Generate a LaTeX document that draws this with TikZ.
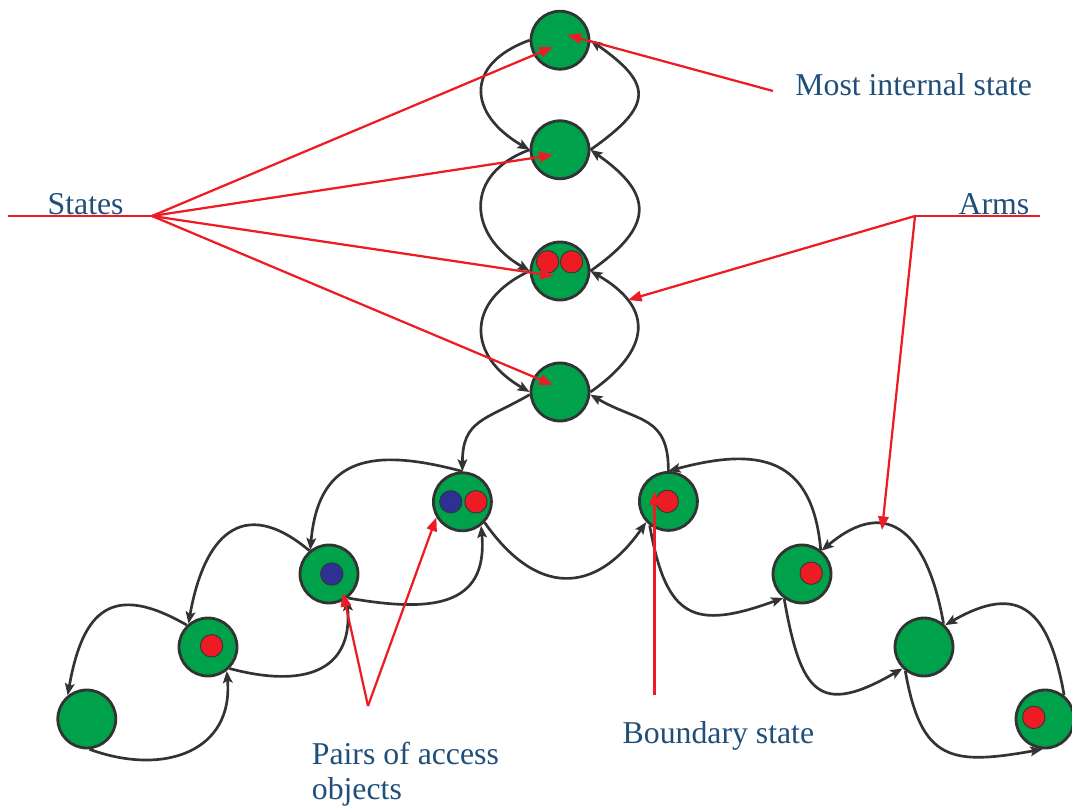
\documentclass[tikz,border=0pt]{standalone}
\usepackage{tikz}
\usetikzlibrary{positioning}
\usetikzlibrary{arrows.meta}
\usepackage{fontspec}
\setmainfont{Liberation Serif}
\usepackage{xcolor}

\definecolor{stategreen}{RGB}{0,161,75}
\definecolor{dotred}{RGB}{237,28,36}
\definecolor{dotblue}{RGB}{46,49,146}
\definecolor{edgegray}{RGB}{51,51,51}
\definecolor{labelblue}{RGB}{31,78,121}

\begin{document}
\begin{tikzpicture}[
state/.style={circle, draw=edgegray, fill=stategreen, line width=2pt, minimum size=1.45cm, inner sep=0pt},
reddot/.style={circle, draw=edgegray, fill=dotred, line width=0.6pt, minimum size=0.56cm, inner sep=0pt},
bluedot/.style={reddot, fill=dotblue},
trans/.style={edgegray, line width=1.9pt, -{Stealth[length=0.3cm,width=0.24cm,inset=0.06cm]}},
pointer/.style={dotred, line width=1.6pt, -{Triangle[length=0.34cm,width=0.26cm]}},
redline/.style={dotred, line width=1.6pt},
lbl/.style={text=labelblue, font=\fontsize{22.6}{25}\selectfont, inner sep=0pt}
]

\useasboundingbox (0,0) rectangle (26.8,20.175);

% states
{
\node[state] (S1) at (14,19.17) {};
\node[state] (S2) at (14,16.43) {};
\node[state] (S3) at (14,13.4) {};
\node[state] (S4) at (14,10.375) {};

\node[state] (L1) at (11.56,7.63) {};
\node[state] (L2) at (8.225,5.825) {};
\node[state] (L3) at (5.2,4.0) {};
\node[state] (L4) at (2.17,2.2) {};

\node[state] (R1) at (16.71,7.64) {};
\node[state] (R2) at (20.05,5.825) {};
\node[state] (R3) at (23.1,4.0) {};
\node[state] (R4) at (26.125,2.2) {};
}

% access objects
{
\node[reddot] (S3a) at ([shift={(-0.31,0.23)}]S3.center) {};
\node[reddot] (S3b) at ([shift={(0.29,0.23)}]S3.center) {};
\node[bluedot] (L1a) at ([shift={(-0.29,0)}]L1.center) {};
\node[reddot] (L1b) at ([shift={(0.34,0)}]L1.center) {};
\node[bluedot] (L2a) at ([shift={(0.07,0)}]L2.center) {};
\node[reddot] (L3a) at ([shift={(0.09,0.03)}]L3.center) {};
\node[reddot] (R1a) at ([shift={(-0.03,0)}]R1.center) {};
\node[reddot] (R2a) at ([shift={(0.23,0.02)}]R2.center) {};
\node[reddot] (R4a) at ([shift={(-0.28,0.04)}]R4.center) {};
}

% vertical arm
\draw[trans] (S1.180) to[out=200,in=150,looseness=1.65] (S2.180);
\draw[trans] (S2.0) to[out=35,in=-35,looseness=1.8] (S1.0);
\draw[trans] (S2.180) to[out=200,in=150,looseness=1.5] (S3.180);
\draw[trans] (S3.0) to[out=35,in=-35,looseness=1.65] (S2.0);
\draw[trans] (S3.180) to[out=205,in=150,looseness=1.52] (S4.180);
\draw[trans] (S4.0) to[out=35,in=-30,looseness=1.57] (S3.0);
\draw[trans] (S4.185) to[out=210,in=90,looseness=1.3] (L1.90);
\draw[trans] (R1.90) to[out=90,in=-30,looseness=1.3] (S4.-5);

% left arm
\draw[trans] (L1.90) to[out=165,in=85,looseness=1.4] (L2.128);
\draw[trans] (L2.130) to[out=140,in=80,looseness=1.6] (L3.130);
\draw[trans] (L3.134) to[out=150,in=80,looseness=1.6] (L4.129);
\draw[trans] (L4.-85) to[out=-20,in=-85,looseness=1.3] (L3.-52);
\draw[trans] (L3.-45) to[out=-15,in=-85,looseness=1.4] (L2.-54);
\draw[trans] (L2.-52) to[out=-10,in=-85,looseness=1.4] (L1.-52);
\draw[trans] (L1.-43) to[out=-55,in=-125,looseness=1.42] (R1.-137);

% right arm
\draw[trans] (R1.-128) to[out=-80,in=200,looseness=1.6] (R2.-128);
\draw[trans] (R2.-126) to[out=-80,in=210,looseness=1.8] (R3.-135);
\draw[trans] (R3.-128) to[out=-80,in=190,looseness=1.5] (R4.-95);
\draw[trans] (R2.52) to[out=95,in=15,looseness=1.4] (R1.90);
\draw[trans] (R3.50) to[out=100,in=40,looseness=1.6] (R2.50);
\draw[trans] (R4.51) to[out=100,in=30,looseness=1.6] (R3.46);

% labels
{
\node[lbl, anchor=base] (most) at (22.84,17.775) {Most internal state};
\node[lbl, anchor=base] (states) at (2.14,14.82) {States};
\node[lbl, anchor=base] (arms) at (24.85,14.82) {Arms};
\node[lbl, anchor=north west, align=left] (pairs) at (7.79,1.635) {Pairs of access\\objects};
\node[lbl, anchor=base] (bnd) at (17.96,1.5925) {Boundary state};
}

% red pointers
\coordinate (statesend) at (0.2,14.775);
\coordinate (stateshub) at (3.8,14.775);
\coordinate (armshub) at (22.875,14.775);
\coordinate (armsend) at (26.0,14.775);
\coordinate (armA) at (15.7,12.675);
\coordinate (armB) at (22.05,6.925);
\coordinate (mosttail) at (19.325,17.9);
\coordinate (pairshub) at (9.2,2.525);
\coordinate (bndhub) at (16.36,2.8);

\draw[redline] (statesend) -- (stateshub);
\draw[redline] (armshub) -- (armsend);

\draw[pointer] (stateshub) -- ([shift={(-0.175,-0.17)}]S1.center);
\draw[pointer] (stateshub) -- ([shift={(-0.175,-0.13)}]S2.center);
\draw[pointer] (stateshub) -- ([shift={(-0.15,-0.125)}]S3.center);
\draw[pointer] (stateshub) -- ([shift={(-0.175,0.175)}]S4.center);
\draw[pointer] (mosttail) -- ([shift={(0.18,0.13)}]S1.center);
\draw[pointer] (armshub) -- (armA);
\draw[pointer] (armshub) -- (armB);
\draw[pointer] (pairshub) -- ([shift={(0.35,-0.475)}]L2.center);
\draw[pointer] (pairshub) -- (L1.211);
\draw[pointer] (bndhub) -- ([shift={(-0.35,0.25)}]R1.center);

\end{tikzpicture}
\end{document}
